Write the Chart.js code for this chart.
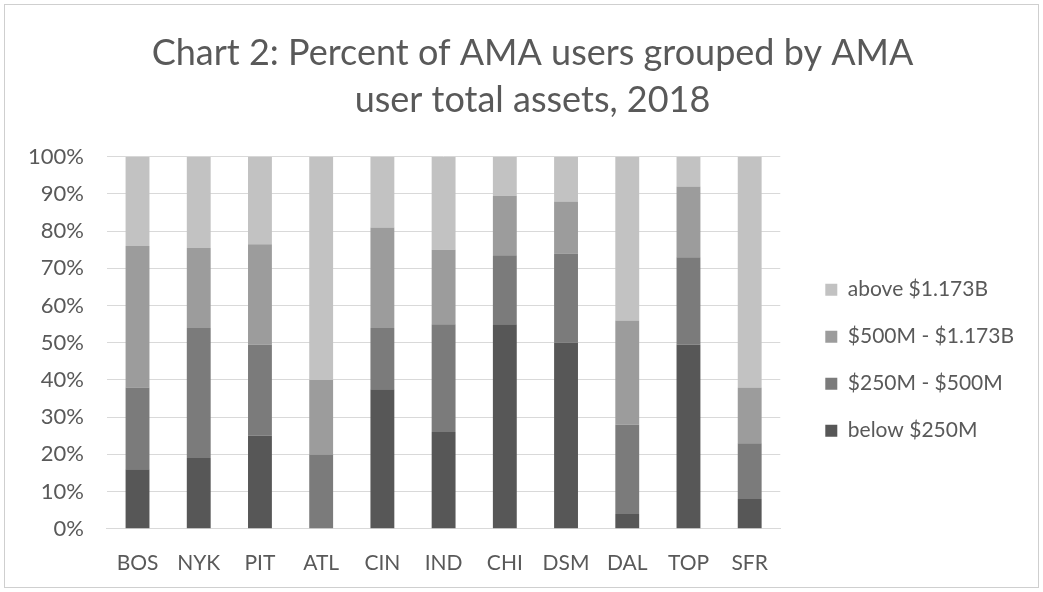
<!DOCTYPE html>
<html>
<head>
<meta charset="utf-8">
<script src="https://cdn.jsdelivr.net/npm/chart.js@4.4.1/dist/chart.umd.min.js"></script>
<style>
  html, body { margin: 0; padding: 0; background: #fff; }
  #wrap { position: relative; width: 1043px; height: 592px; }
</style>
</head>
<body>
<div id="wrap"><canvas id="assetChart" width="1043" height="592"></canvas></div>
<script>
// Cities (AMA user groups) along the x axis
const cities = ['BOS', 'NYK', 'PIT', 'ATL', 'CIN', 'IND', 'CHI', 'DSM', 'DAL', 'TOP', 'SFR'];

// Percent of AMA users in each asset band, stacked bottom to top
const below250M  = [16, 19, 25,  0, 37.5, 26, 55, 50,  4, 49.5,  8];
const from250to500M = [22, 35, 24.5, 20, 16.5, 29, 18.5, 24, 24, 23.5, 15];
const from500Mto1173B = [38, 21.5, 27, 20, 27, 20, 16, 14, 28, 19, 15];
const above1173B = [24, 24.5, 23.5, 60, 19, 25, 10.5, 12, 44, 8, 62];

const seriesNames = ['below $250M', '$250M - $500M', '$500M - $1.173B', 'above $1.173B'];
const seriesColors = ['#575757', '#7b7b7b', '#9c9c9c', '#c2c2c2'];

const yTicks = [0, 10, 20, 30, 40, 50, 60, 70, 80, 90, 100];

const textColor = '#595959';
const fontFamily = 'Lato, "Open Sans", sans-serif';

// legend sits a bit away from the plot, like the original spreadsheet chart
const legendGap = 19;
const legendExtra = 33;

// thin frame around the whole chart + legend spacing tweak
const framePlugin = {
  id: 'frame',
  beforeLayout(chart) {
    const lg = chart.legend;
    if (lg && !lg._widened) {
      const fit = lg.fit;
      lg.fit = function () {
        fit.call(this);
        this.width += legendExtra;
      };
      lg._widened = true;
    }
  },
  afterLayout(chart) {
    if (chart.legend) chart.legend.left += legendGap;
  },
  beforeDraw(chart) {
    const ctx = chart.ctx;
    ctx.save();
    ctx.fillStyle = '#fff';
    ctx.fillRect(0, 0, chart.width, chart.height);
    ctx.strokeStyle = '#cfcfcf';
    ctx.lineWidth = 1;
    ctx.strokeRect(4.5, 4.5, chart.width - 9, chart.height - 9);
    ctx.restore();
  }
};

const allSeries = [below250M, from250to500M, from500Mto1173B, above1173B];

new Chart(document.getElementById('assetChart'), {
  type: 'bar',
  data: {
    labels: cities,
    datasets: allSeries.map((vals, i) => ({
      label: seriesNames[i],
      data: vals,
      backgroundColor: seriesColors[i],
      borderWidth: 0,
      categoryPercentage: 1.0,
      barPercentage: 0.39
    }))
  },
  options: {
    responsive: false,
    animation: false,
    layout: { padding: { left: 27, right: 5, top: 0, bottom: 2 } },
    plugins: {
      title: {
        display: true,
        text: ['Chart 2: Percent of AMA users grouped by AMA', 'user total assets, 2018'],
        color: textColor,
        font: { family: fontFamily, size: 36, weight: 'normal', lineHeight: 1.33 },
        padding: { top: 29, bottom: 32 }
      },
      legend: {
        position: 'right',
        reverse: true,
        title: { display: true, text: '', padding: { top: 58, bottom: 58 } },
        labels: {
          color: textColor,
          font: { family: fontFamily, size: 21 },
          boxWidth: 12,
          boxHeight: 12,
          padding: 26
        }
      },
      tooltip: { enabled: false }
    },
    scales: {
      x: {
        stacked: true,
        grid: { display: false },
        border: { display: true, color: '#d9d9d9' },
        ticks: { color: textColor, font: { family: fontFamily, size: 21 }, padding: 14 }
      },
      y: {
        stacked: true,
        min: 0,
        max: 100,
        afterBuildTicks(axis) {
          axis.ticks = yTicks.map(v => ({ value: v }));
        },
        afterFit(axis) {
          axis.width -= 22;
        },
        grid: { color: '#d9d9d9', drawTicks: false },
        border: { display: false },
        ticks: {
          color: textColor,
          font: { family: fontFamily, size: 22 },
          padding: 23,
          callback: v => v + '%'
        }
      }
    }
  },
  plugins: [framePlugin]
});
</script>
</body>
</html>
